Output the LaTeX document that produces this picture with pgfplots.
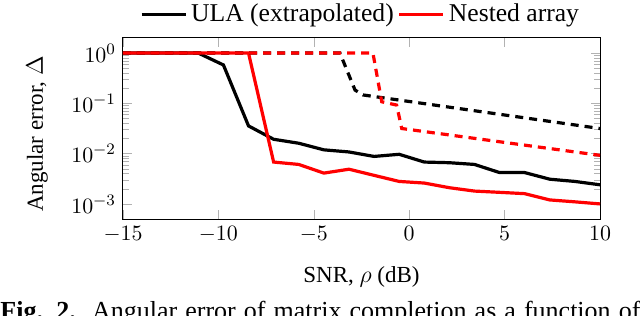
\documentclass[border=0pt]{standalone}
\usepackage[no-math]{fontspec}
\setmainfont{Liberation Serif}
\usepackage{pgfplots}
\pgfplotsset{compat=1.18}
\begin{document}
\begin{tikzpicture}
\begin{axis}[
  scale only axis,
  width=238.5pt, height=90.5pt,
  xmin=-15, xmax=10,
  ymode=log, ymin=5.0119e-4, ymax=1.9953,
  xtick={-15,-10,-5,0,5,10},
  ytick={1e-3,1e-2,1e-1,1},
  tick style={black!30},
  axis line style={line width=0.5pt},
  tick label style={font=\fontsize{11}{13}\selectfont},
  xlabel={SNR, $\rho$ (dB)},
  ylabel={Angular error, $\Delta$},
  label style={font=\fontsize{11.5}{13}\selectfont},
  xlabel style={at={(axis description cs:0.5,0)}, anchor=base, yshift=-31.5pt},
  ylabel style={at={(axis description cs:-0.18,0.47)}, anchor=center},
  legend columns=2,
  legend style={draw=none, fill=none, at={(0.5,1)}, anchor=south, yshift=2.4pt, font=\fontsize{12.8}{15}\selectfont},
  legend image code/.code={\draw[#1] (0pt,0pt) -- (22pt,0pt);},
  every axis plot/.append style={line width=1.6pt},
]
\addplot[black] coordinates {
(-15,1) (-13.6842,1) (-12.3684,1) (-11.0526,1) (-9.7368,0.58) (-8.4211,0.0356)
(-7.1053,0.0193) (-5.7895,0.0161) (-4.4737,0.0119) (-3.1579,0.0108) (-1.8421,0.0088)
(-0.5263,0.0097) (0.7895,0.0068) (2.1053,0.0066) (3.4211,0.0061) (4.7368,0.0042)
(6.0526,0.0042) (7.3684,0.0031) (8.6842,0.0028) (10,0.0024)};
\addlegendentry{ULA (extrapolated)}
\addplot[red] coordinates {
(-15,1) (-13.6842,1) (-12.3684,1) (-11.0526,1) (-9.7368,1) (-8.4211,1)
(-7.1053,0.0068) (-5.7895,0.0061) (-4.4737,0.0041) (-3.1579,0.0049) (-1.8421,0.0037)
(-0.5263,0.0028) (0.7895,0.0026) (2.1053,0.0021) (3.4211,0.0018) (4.7368,0.0017)
(6.0526,0.0016) (7.3684,0.0012) (8.6842,0.0011) (10,0.0010)};
\addlegendentry{Nested array}
\addplot[black, dash pattern=on 4pt off 3pt, forget plot] coordinates {
(-15,1) (-3.63,1) (-2.84,0.184) (-2.42,0.147) (10,0.0316)};
\addplot[red, dash pattern=on 4pt off 3pt, forget plot] coordinates {
(-15,1) (-1.90,1) (-1.44,0.1076) (-0.66,0.0925) (-0.39,0.0316) (10,0.00925)};
\end{axis}
\node[anchor=base west, inner sep=0pt, font=\fontsize{13}{15}\selectfont] at (-61.5pt,-50pt)
  {\makebox[320pt][s]{\textbf{Fig. 2.}\ \ Angular error of matrix completion as a function of}};
\pgfresetboundingbox
\useasboundingbox (-61.5pt,-48pt) rectangle (258.5pt,109.5pt);
\end{tikzpicture}
\end{document}
